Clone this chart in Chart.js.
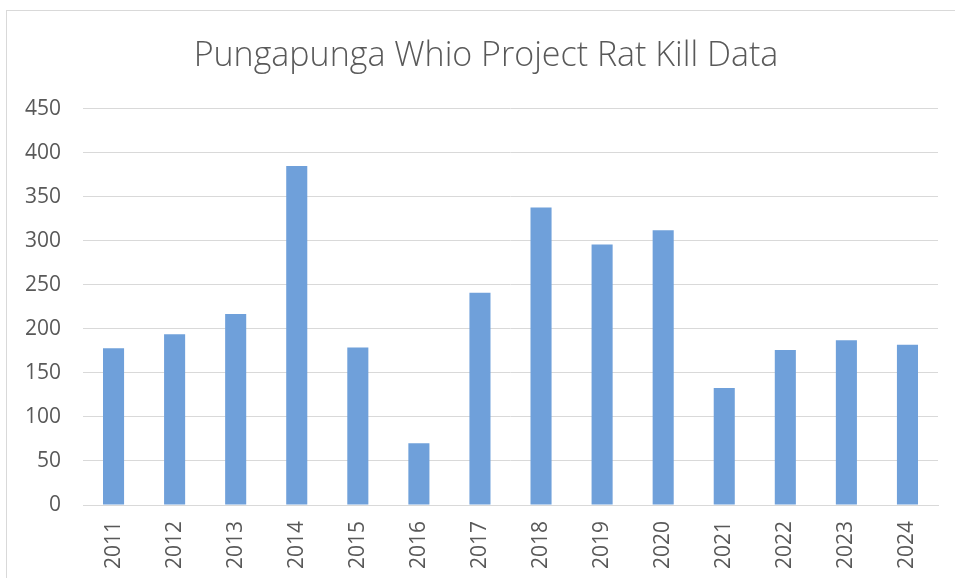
<!DOCTYPE html>
<html>
<head>
<meta charset="utf-8">
<script src="https://cdn.jsdelivr.net/npm/chart.js@4/dist/chart.umd.min.js"></script>
<style>
  body { margin: 0; background: #fff; }
  #wrap { position: relative; width: 955px; height: 578px; overflow: hidden; }
  #frame { position: absolute; left: 6px; top: 10px; width: 980px; height: 600px; border: 1px solid #d9d9d9; box-sizing: border-box; }
  canvas { position: absolute; left: 0; top: 0; }
</style>
</head>
<body>
<div id="wrap">
  <div id="frame"></div>
  <canvas id="grafico" width="955" height="578"></canvas>
</div>
<script>
// dados
const anos = ['2011', '2012', '2013', '2014', '2015', '2016', '2017', '2018', '2019', '2020', '2021', '2022', '2023', '2024'];
const ratosMortos = [178, 194, 217, 385, 179, 70, 241, 338, 296, 312, 133, 176, 187, 182];
const titulo = 'Pungapunga Whio Project Rat Kill Data';

const corTexto = '#595959';
const corGrade = '#d9d9d9';

const ctx = document.getElementById('grafico').getContext('2d');
const grafico = new Chart(ctx, {
    type: 'bar',
    data: {
        labels: anos,
        datasets: [{
            label: 'Rats',
            data: ratosMortos,
            backgroundColor: '#6fa0da',
            categoryPercentage: 1,
            barPercentage: 0.345
        }]
    },
    options: {
        responsive: false,
        animation: false,
        // padding esquerdo de 17 + eixo invisivel à direita: assim o título fica centrado como no original
        layout: { padding: { top: 36, right: 0, left: 17, bottom: 0 } },
        plugins: {
            legend: { display: false },
            tooltip: { enabled: false },
            title: {
                display: true,
                text: titulo,
                color: corTexto,
                font: { family: 'Open Sans', size: 34, weight: '300' },
                padding: { top: 0, bottom: 32 }
            }
        },
        scales: {
            x: {
                grid: { display: false, drawTicks: false },
                border: { color: corGrade },
                ticks: {
                    color: corTexto,
                    font: { family: 'Open Sans', size: 21 },
                    minRotation: 90,
                    maxRotation: 90,
                    padding: 16
                },
                afterFit: function (escala) { escala.height = 73; }
            },
            y: {
                min: 0,
                max: 450,
                grid: { color: corGrade, drawTicks: false },
                border: { display: false },
                ticks: {
                    stepSize: 50,
                    color: corTexto,
                    font: { family: 'Open Sans', size: 21 },
                    padding: 22
                },
                afterFit: function (escala) { escala.width = 66; }
            },
            direita: {
                type: 'linear',
                position: 'right',
                min: 0,
                max: 450,
                grid: { display: false, drawTicks: false },
                border: { display: false },
                ticks: { display: false },
                afterFit: function (escala) { escala.width = 17; }
            }
        }
    }
});
</script>
</body>
</html>
